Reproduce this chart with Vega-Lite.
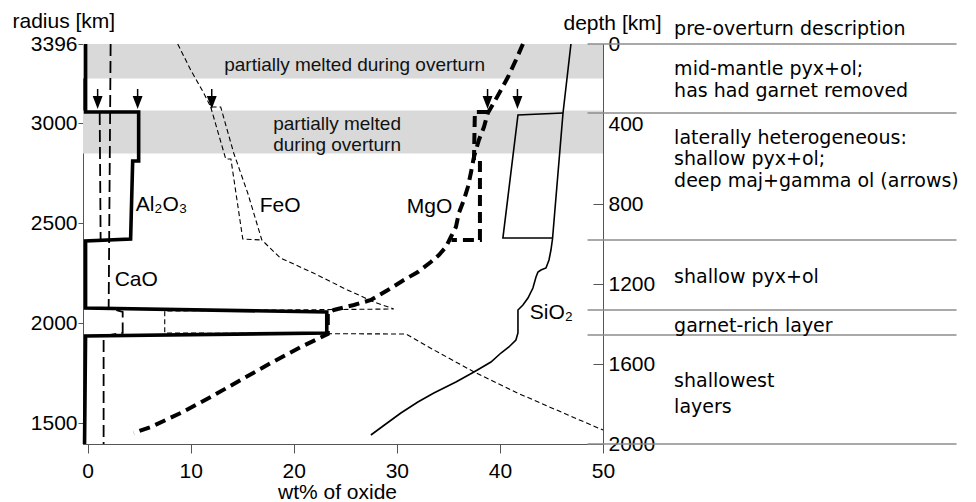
{
  "$schema": "https://vega.github.io/schema/vega-lite/v6.json",
  "width": 520,
  "height": 400,
  "autosize": {"type": "none"},
  "padding": {"left": 83, "top": 44, "right": 373, "bottom": 58},
  "background": "white",
  "view": {"stroke": "#555", "strokeWidth": 1},
  "config": {
    "font": "Liberation Sans",
    "view": {"stroke": "#555", "strokeWidth": 1},
    "axis": {
      "labelFont": "Liberation Sans", "labelFontSize": 21, "labelColor": "#000",
      "titleFont": "Liberation Sans", "titleFontSize": 21, "titleFontWeight": "normal", "titleColor": "#000",
      "domainColor": "#555", "tickColor": "#555", "grid": false,
      "labelOverlap": false, "labelFlush": false, "labelBound": false
    }
  },
  "datasets": {
    "bands": [
      {"top": 0, "bottom": 173},
      {"top": 333, "bottom": 547}
    ],
    "bandText": [
      {"label": "partially melted during overturn", "wt": 25.9, "depth": 133},
      {"label": "partially melted\nduring overturn", "wt": 24.2, "depth": 430}
    ],
    "curves": [
      {"oxide": "Al2O3", "branch": "main", "i": 1, "wt": -0.2, "depth": 0},
      {"oxide": "Al2O3", "branch": "main", "i": 2, "wt": -0.2, "depth": 340},
      {"oxide": "Al2O3", "branch": "main", "i": 3, "wt": 4.95, "depth": 340},
      {"oxide": "Al2O3", "branch": "main", "i": 4, "wt": 4.95, "depth": 585},
      {"oxide": "Al2O3", "branch": "main", "i": 5, "wt": 4.37, "depth": 585},
      {"oxide": "Al2O3", "branch": "main", "i": 6, "wt": 4.17, "depth": 975},
      {"oxide": "Al2O3", "branch": "main", "i": 7, "wt": -0.2, "depth": 985},
      {"oxide": "Al2O3", "branch": "main", "i": 8, "wt": -0.2, "depth": 1320},
      {"oxide": "Al2O3", "branch": "main", "i": 9, "wt": 23.2, "depth": 1340},
      {"oxide": "Al2O3", "branch": "main", "i": 10, "wt": 23.2, "depth": 1445},
      {"oxide": "Al2O3", "branch": "main", "i": 11, "wt": -0.2, "depth": 1460},
      {"oxide": "Al2O3", "branch": "main", "i": 12, "wt": -0.3, "depth": 2000},

      {"oxide": "CaO", "branch": "main", "i": 1, "wt": 2.23, "depth": 0},
      {"oxide": "CaO", "branch": "main", "i": 2, "wt": 2.04, "depth": 1320},
      {"oxide": "CaO", "branch": "main", "i": 3, "wt": 3.4, "depth": 1340},
      {"oxide": "CaO", "branch": "main", "i": 4, "wt": 3.4, "depth": 1445},
      {"oxide": "CaO", "branch": "main", "i": 5, "wt": 1.55, "depth": 1460},
      {"oxide": "CaO", "branch": "main", "i": 6, "wt": 1.55, "depth": 2000},
      {"oxide": "CaO", "branch": "deep", "i": 1, "wt": 1.17, "depth": 345},
      {"oxide": "CaO", "branch": "deep", "i": 2, "wt": 1.26, "depth": 980},

      {"oxide": "FeO", "branch": "main", "i": 1, "wt": 8.74, "depth": 0},
      {"oxide": "FeO", "branch": "main", "i": 2, "wt": 10.0, "depth": 130},
      {"oxide": "FeO", "branch": "main", "i": 3, "wt": 11.26, "depth": 245},
      {"oxide": "FeO", "branch": "main", "i": 4, "wt": 11.94, "depth": 315},
      {"oxide": "FeO", "branch": "main", "i": 5, "wt": 12.91, "depth": 315},
      {"oxide": "FeO", "branch": "main", "i": 6, "wt": 14.17, "depth": 545},
      {"oxide": "FeO", "branch": "main", "i": 7, "wt": 15.53, "depth": 745},
      {"oxide": "FeO", "branch": "main", "i": 8, "wt": 16.9, "depth": 980},
      {"oxide": "FeO", "branch": "main", "i": 9, "wt": 18.7, "depth": 1070},
      {"oxide": "FeO", "branch": "main", "i": 10, "wt": 21.9, "depth": 1145},
      {"oxide": "FeO", "branch": "main", "i": 11, "wt": 25.2, "depth": 1230},
      {"oxide": "FeO", "branch": "main", "i": 12, "wt": 27.8, "depth": 1290},
      {"oxide": "FeO", "branch": "main", "i": 13, "wt": 29.7, "depth": 1325},
      {"oxide": "FeO", "branch": "main", "i": 14, "wt": 7.48, "depth": 1335},
      {"oxide": "FeO", "branch": "main", "i": 15, "wt": 7.48, "depth": 1445},
      {"oxide": "FeO", "branch": "main", "i": 16, "wt": 30.9, "depth": 1450},
      {"oxide": "FeO", "branch": "main", "i": 17, "wt": 33.6, "depth": 1530},
      {"oxide": "FeO", "branch": "main", "i": 18, "wt": 37.5, "depth": 1640},
      {"oxide": "FeO", "branch": "main", "i": 19, "wt": 41.7, "depth": 1745},
      {"oxide": "FeO", "branch": "main", "i": 20, "wt": 46.6, "depth": 1855},
      {"oxide": "FeO", "branch": "main", "i": 21, "wt": 50.0, "depth": 1930},
      {"oxide": "FeO", "branch": "deep", "i": 1, "wt": 11.94, "depth": 315},
      {"oxide": "FeO", "branch": "deep", "i": 2, "wt": 13.4, "depth": 575},
      {"oxide": "FeO", "branch": "deep", "i": 3, "wt": 13.9, "depth": 575},
      {"oxide": "FeO", "branch": "deep", "i": 4, "wt": 15.05, "depth": 975},
      {"oxide": "FeO", "branch": "deep", "i": 5, "wt": 16.9, "depth": 980},

      {"oxide": "MgO", "branch": "main", "i": 1, "wt": 42.23, "depth": 0},
      {"oxide": "MgO", "branch": "main", "i": 2, "wt": 41.55, "depth": 80},
      {"oxide": "MgO", "branch": "main", "i": 3, "wt": 40.78, "depth": 165},
      {"oxide": "MgO", "branch": "main", "i": 4, "wt": 40.1, "depth": 230},
      {"oxide": "MgO", "branch": "main", "i": 5, "wt": 39.4, "depth": 295},
      {"oxide": "MgO", "branch": "main", "i": 6, "wt": 38.83, "depth": 345},
      {"oxide": "MgO", "branch": "main", "i": 7, "wt": 38.45, "depth": 415},
      {"oxide": "MgO", "branch": "main", "i": 8, "wt": 37.96, "depth": 480},
      {"oxide": "MgO", "branch": "main", "i": 9, "wt": 37.48, "depth": 565},
      {"oxide": "MgO", "branch": "main", "i": 10, "wt": 37.18, "depth": 645},
      {"oxide": "MgO", "branch": "main", "i": 11, "wt": 36.89, "depth": 715},
      {"oxide": "MgO", "branch": "main", "i": 12, "wt": 36.5, "depth": 780},
      {"oxide": "MgO", "branch": "main", "i": 13, "wt": 36.02, "depth": 845},
      {"oxide": "MgO", "branch": "main", "i": 14, "wt": 35.73, "depth": 915},
      {"oxide": "MgO", "branch": "main", "i": 15, "wt": 35.24, "depth": 965},
      {"oxide": "MgO", "branch": "main", "i": 16, "wt": 34.76, "depth": 1015},
      {"oxide": "MgO", "branch": "main", "i": 17, "wt": 34.08, "depth": 1055},
      {"oxide": "MgO", "branch": "main", "i": 18, "wt": 33.3, "depth": 1090},
      {"oxide": "MgO", "branch": "main", "i": 19, "wt": 32.04, "depth": 1140},
      {"oxide": "MgO", "branch": "main", "i": 20, "wt": 30.68, "depth": 1180},
      {"oxide": "MgO", "branch": "main", "i": 21, "wt": 29.13, "depth": 1230},
      {"oxide": "MgO", "branch": "main", "i": 22, "wt": 27.48, "depth": 1280},
      {"oxide": "MgO", "branch": "main", "i": 23, "wt": 25.83, "depth": 1305},
      {"oxide": "MgO", "branch": "main", "i": 24, "wt": 23.88, "depth": 1330},
      {"oxide": "MgO", "branch": "main", "i": 25, "wt": 23.3, "depth": 1345},
      {"oxide": "MgO", "branch": "main", "i": 26, "wt": 23.3, "depth": 1450},
      {"oxide": "MgO", "branch": "main", "i": 27, "wt": 20.68, "depth": 1515},
      {"oxide": "MgO", "branch": "main", "i": 28, "wt": 17.77, "depth": 1595},
      {"oxide": "MgO", "branch": "main", "i": 29, "wt": 14.85, "depth": 1680},
      {"oxide": "MgO", "branch": "main", "i": 30, "wt": 11.94, "depth": 1765},
      {"oxide": "MgO", "branch": "main", "i": 31, "wt": 9.03, "depth": 1845},
      {"oxide": "MgO", "branch": "main", "i": 32, "wt": 6.12, "depth": 1915},
      {"oxide": "MgO", "branch": "main", "i": 33, "wt": 4.47, "depth": 1945},
      {"oxide": "MgO", "branch": "deep", "i": 1, "wt": 38.83, "depth": 340},
      {"oxide": "MgO", "branch": "deep", "i": 2, "wt": 37.57, "depth": 340},
      {"oxide": "MgO", "branch": "deep", "i": 3, "wt": 37.48, "depth": 580},
      {"oxide": "MgO", "branch": "deep", "i": 4, "wt": 38.06, "depth": 580},
      {"oxide": "MgO", "branch": "deep", "i": 5, "wt": 38.06, "depth": 980},
      {"oxide": "MgO", "branch": "deep", "i": 6, "wt": 35.3, "depth": 980},

      {"oxide": "SiO2", "branch": "main", "i": 1, "wt": 46.89, "depth": 0},
      {"oxide": "SiO2", "branch": "main", "i": 2, "wt": 46.12, "depth": 345},
      {"oxide": "SiO2", "branch": "main", "i": 3, "wt": 45.1, "depth": 975},
      {"oxide": "SiO2", "branch": "main", "i": 4, "wt": 44.95, "depth": 1030},
      {"oxide": "SiO2", "branch": "main", "i": 5, "wt": 44.76, "depth": 1080},
      {"oxide": "SiO2", "branch": "main", "i": 6, "wt": 44.47, "depth": 1120},
      {"oxide": "SiO2", "branch": "main", "i": 7, "wt": 43.98, "depth": 1130},
      {"oxide": "SiO2", "branch": "main", "i": 8, "wt": 43.69, "depth": 1140},
      {"oxide": "SiO2", "branch": "main", "i": 9, "wt": 43.5, "depth": 1165},
      {"oxide": "SiO2", "branch": "main", "i": 10, "wt": 43.2, "depth": 1220},
      {"oxide": "SiO2", "branch": "main", "i": 11, "wt": 42.72, "depth": 1270},
      {"oxide": "SiO2", "branch": "main", "i": 12, "wt": 42.23, "depth": 1305},
      {"oxide": "SiO2", "branch": "main", "i": 13, "wt": 41.75, "depth": 1330},
      {"oxide": "SiO2", "branch": "main", "i": 14, "wt": 41.75, "depth": 1445},
      {"oxide": "SiO2", "branch": "main", "i": 15, "wt": 41.55, "depth": 1480},
      {"oxide": "SiO2", "branch": "main", "i": 16, "wt": 40.87, "depth": 1515},
      {"oxide": "SiO2", "branch": "main", "i": 17, "wt": 40.1, "depth": 1545},
      {"oxide": "SiO2", "branch": "main", "i": 18, "wt": 39.13, "depth": 1590},
      {"oxide": "SiO2", "branch": "main", "i": 19, "wt": 37.48, "depth": 1640},
      {"oxide": "SiO2", "branch": "main", "i": 20, "wt": 35.73, "depth": 1690},
      {"oxide": "SiO2", "branch": "main", "i": 21, "wt": 33.59, "depth": 1745},
      {"oxide": "SiO2", "branch": "main", "i": 22, "wt": 32.04, "depth": 1790},
      {"oxide": "SiO2", "branch": "main", "i": 23, "wt": 30.39, "depth": 1845},
      {"oxide": "SiO2", "branch": "main", "i": 24, "wt": 28.93, "depth": 1900},
      {"oxide": "SiO2", "branch": "main", "i": 25, "wt": 27.48, "depth": 1955},
      {"oxide": "SiO2", "branch": "deep", "i": 1, "wt": 46.12, "depth": 345},
      {"oxide": "SiO2", "branch": "deep", "i": 2, "wt": 41.75, "depth": 355},
      {"oxide": "SiO2", "branch": "deep", "i": 3, "wt": 40.29, "depth": 970},
      {"oxide": "SiO2", "branch": "deep", "i": 4, "wt": 45.1, "depth": 970}
    ],
    "arrows": [
      {"wt": 0.97, "top": 225, "shaft": 282, "head": 292},
      {"wt": 4.85, "top": 225, "shaft": 282, "head": 292},
      {"wt": 12.04, "top": 225, "shaft": 282, "head": 292},
      {"wt": 38.8, "top": 225, "shaft": 282, "head": 292},
      {"wt": 41.7, "top": 225, "shaft": 282, "head": 292}
    ],
    "labels": [
      {"label": "Al₂O₃", "wt": 4.66, "depth": 833},
      {"label": "FeO", "wt": 16.7, "depth": 840},
      {"label": "CaO", "wt": 2.62, "depth": 1210},
      {"label": "MgO", "wt": 30.97, "depth": 845},
      {"label": "SiO₂", "wt": 42.9, "depth": 1375}
    ],
    "layerLines": [
      {"depth": 0}, {"depth": 345}, {"depth": 980}, {"depth": 1330}, {"depth": 1455}, {"depth": 2000}
    ],
    "layerText": [
      {"label": "pre-overturn description", "depth": -47},
      {"label": "mid-mantle pyx+ol;", "depth": 155},
      {"label": "has had garnet removed", "depth": 265},
      {"label": "laterally heterogeneous:", "depth": 498},
      {"label": "shallow pyx+ol;", "depth": 605},
      {"label": "deep maj+gamma ol (arrows)", "depth": 716},
      {"label": "shallow pyx+ol", "depth": 1195},
      {"label": "garnet-rich layer", "depth": 1440},
      {"label": "shallowest", "depth": 1715},
      {"label": "layers", "depth": 1845}
    ]
  },
  "layer": [
    {
      "layer": [
        {
          "data": {"name": "curves"},
          "transform": [{"filter": "datum.oxide === 'Al2O3'"}],
          "mark": {"type": "line", "color": "#000", "strokeWidth": 3.6, "strokeJoin": "miter", "opacity": 0},
          "encoding": {
            "x": {
              "field": "wt", "type": "quantitative",
              "scale": {"domain": [-0.45, 50], "nice": false, "zero": false},
              "axis": {"values": [0, 10, 20, 30, 40, 50], "tickSize": 9, "labelPadding": 7, "title": "wt% of oxide", "titleX": 254, "titleY": 54, "titleBaseline": "alphabetic"}
            },
            "y": {
              "field": "depth", "type": "quantitative",
              "scale": {"domain": [0, 2000], "reverse": true, "nice": false, "zero": false},
              "axis": {"orient": "left", "values": [0, 396, 896, 1396, 1896], "labelExpr": "3396 - datum.value", "tickSize": 5, "labelPadding": 1, "title": "radius [km]", "titleAngle": 0, "titleAlign": "left", "titleBaseline": "alphabetic", "titleX": -71, "titleY": -17}
            },
            "detail": {"field": "branch"},
            "order": {"field": "i"}
          }
        },
        {
          "data": {"name": "bands"},
          "mark": {"type": "rect", "color": "#d9d9d9"},
          "encoding": {
            "y": {"field": "top", "type": "quantitative"},
            "y2": {"field": "bottom"}
          }
        },
        {
          "data": {"name": "bandText"},
          "mark": {"type": "text", "fontSize": 19, "align": "center", "baseline": "alphabetic", "lineBreak": "\n", "lineHeight": 21, "color": "#111"},
          "encoding": {
            "x": {"field": "wt", "type": "quantitative"},
            "y": {"field": "depth", "type": "quantitative"},
            "text": {"field": "label"}
          }
        },
        {
          "data": {"name": "curves"},
          "transform": [{"filter": "datum.oxide === 'Al2O3'"}],
          "mark": {"type": "line", "color": "#000", "strokeWidth": 3.6, "strokeJoin": "miter"},
          "encoding": {
            "x": {"field": "wt", "type": "quantitative"},
            "y": {"field": "depth", "type": "quantitative"},
            "detail": {"field": "branch"},
            "order": {"field": "i"}
          }
        },
        {
          "data": {"name": "curves"},
          "transform": [{"filter": "datum.oxide === 'CaO'"}],
          "mark": {"type": "line", "color": "#000", "strokeWidth": 1.8, "strokeDash": [12, 5]},
          "encoding": {
            "x": {"field": "wt", "type": "quantitative"},
            "y": {"field": "depth", "type": "quantitative"},
            "detail": {"field": "branch"},
            "order": {"field": "i"}
          }
        },
        {
          "data": {"name": "curves"},
          "transform": [{"filter": "datum.oxide === 'FeO'"}],
          "mark": {"type": "line", "color": "#000", "strokeWidth": 1.1, "strokeDash": [5, 3]},
          "encoding": {
            "x": {"field": "wt", "type": "quantitative"},
            "y": {"field": "depth", "type": "quantitative"},
            "detail": {"field": "branch"},
            "order": {"field": "i"}
          }
        },
        {
          "data": {"name": "curves"},
          "transform": [{"filter": "datum.oxide === 'MgO'"}],
          "mark": {"type": "line", "color": "#000", "strokeWidth": 4, "strokeDash": [11, 6]},
          "encoding": {
            "x": {"field": "wt", "type": "quantitative"},
            "y": {"field": "depth", "type": "quantitative"},
            "detail": {"field": "branch"},
            "order": {"field": "i"}
          }
        },
        {
          "data": {"name": "curves"},
          "transform": [{"filter": "datum.oxide === 'SiO2'"}],
          "mark": {"type": "line", "color": "#000", "strokeWidth": 1.6},
          "encoding": {
            "x": {"field": "wt", "type": "quantitative"},
            "y": {"field": "depth", "type": "quantitative"},
            "detail": {"field": "branch"},
            "order": {"field": "i"}
          }
        },
        {
          "data": {"name": "arrows"},
          "mark": {"type": "rule", "color": "#000", "strokeWidth": 1.5},
          "encoding": {
            "x": {"field": "wt", "type": "quantitative"},
            "y": {"field": "top", "type": "quantitative"},
            "y2": {"field": "shaft"}
          }
        },
        {
          "data": {"name": "arrows"},
          "mark": {"type": "point", "shape": "M-0.76,-1L0.76,-1L0,1Z", "filled": true, "color": "#000", "opacity": 1, "size": 169},
          "encoding": {
            "x": {"field": "wt", "type": "quantitative"},
            "y": {"field": "head", "type": "quantitative"}
          }
        },
        {
          "data": {"name": "labels"},
          "mark": {"type": "text", "fontSize": 21, "align": "left", "baseline": "alphabetic", "color": "#000"},
          "encoding": {
            "x": {"field": "wt", "type": "quantitative"},
            "y": {"field": "depth", "type": "quantitative"},
            "text": {"field": "label"}
          }
        }
      ]
    },
    {
      "layer": [
        {
          "data": {"name": "layerLines"},
          "mark": {"type": "rule", "color": "#8c8c8c", "strokeWidth": 1.3, "clip": false},
          "encoding": {
            "x": {"datum": 48.5, "type": "quantitative"},
            "x2": {"datum": 84.3},
            "y": {
              "field": "depth", "type": "quantitative",
              "scale": {"domain": [0, 2000], "reverse": true, "nice": false, "zero": false},
              "axis": {"orient": "right", "values": [0, 400, 800, 1200, 1600, 2000], "format": "d", "tickSize": -10, "labelPadding": 15, "title": "depth [km]", "titleAngle": 0, "titleAlign": "left", "titleBaseline": "alphabetic", "titleX": -40, "titleY": -15}
            }
          }
        },
        {
          "data": {"name": "layerText"},
          "mark": {"type": "text", "font": "DejaVu Sans", "fontSize": 19, "align": "left", "baseline": "alphabetic", "color": "#000", "clip": false},
          "encoding": {
            "x": {"datum": 56.9, "type": "quantitative"},
            "y": {"field": "depth", "type": "quantitative"},
            "text": {"field": "label"}
          }
        }
      ]
    }
  ],
  "resolve": {"scale": {"y": "independent"}, "axis": {"y": "independent"}}
}
